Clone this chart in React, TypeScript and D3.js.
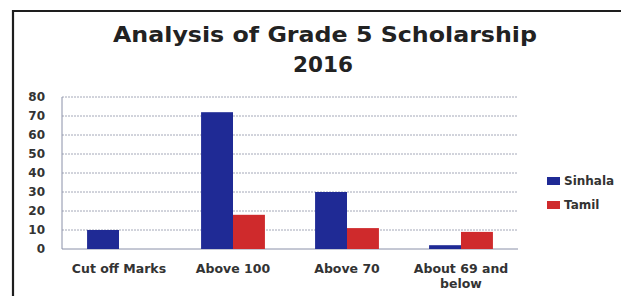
import React from 'react';
import * as d3 from 'd3';

const categories = ['Cut off Marks', 'Above 100', 'Above 70', 'About 69 and below'];
const seriesNames = ['Sinhala', 'Tamil'];
const sinhala = [10, 72, 30, 2];
const tamil = [0, 18, 11, 9];
const yTicks = [0, 10, 20, 30, 40, 50, 60, 70, 80];
const colors = ['#1f2a95', '#cf2a2c'];

const W = 621, H = 296;
const font = "'DejaVu Sans', sans-serif";

export default function App() {
  const values = [sinhala, tamil];
  const x = d3.scaleBand<string>().domain(categories).range([62, 518])
    .paddingInner(0.44).paddingOuter(0.22);
  const xs = d3.scaleBand<string>().domain(seriesNames).range([0, x.bandwidth()]);
  const y = d3.scaleLinear().domain([0, 80]).range([249, 97]);

  // split long label like excel does
  const labelLines = (c: string) => c === 'About 69 and below' ? ['About 69 and', 'below'] : [c];

  return (
    <svg width={W} height={H} style={{position: 'absolute', left: 0, top: 0, background: '#fff'}}>
      {/* frame */}
      <path d={`M13,${H} L13,11 L${W},11`} fill="none" stroke="#1e1e1e" strokeWidth={2.2} />

      <text x={325} y={42} textAnchor="middle" fontFamily={font} fontWeight="bold" fontSize={21.5} fill="#222"
        textLength={424} lengthAdjust="spacingAndGlyphs">
        Analysis of Grade 5 Scholarship
      </text>
      <text x={323} y={72} textAnchor="middle" fontFamily={font} fontWeight="bold" fontSize={21.5} fill="#222">
        2016
      </text>

      {/* gridlines */}
      {yTicks.filter(t => t > 0).map(t => (
        <line key={t} x1={62} x2={518} y1={y(t)} y2={y(t)} stroke="#a4a8b8" strokeWidth={1} strokeDasharray="2,1" />
      ))}
      <line x1={62} x2={518} y1={y(0)} y2={y(0)} stroke="#8a90a8" strokeWidth={1} />
      <line x1={62} x2={62} y1={y(80)} y2={y(0)} stroke="#8a90a8" strokeWidth={1} />

      {yTicks.map(t => (
        <text key={t} x={45} y={y(t)} dy="0.35em" textAnchor="end" fontFamily={font} fontWeight="bold" fontSize={12} fill="#333">
          {t}
        </text>
      ))}

      {/* bars */}
      {categories.map((c, i) => (
        <g key={c} transform={`translate(${x(c)},0)`}>
          {seriesNames.map((s, j) => values[j][i] > 0 && (
            <rect key={s} x={xs(s)} y={y(values[j][i])} width={xs.bandwidth()} height={y(0) - y(values[j][i])} fill={colors[j]} />
          ))}
        </g>
      ))}

      {/* x labels */}
      {categories.map(c => labelLines(c).map((l, k) => (
        <text key={c + k} x={(x(c) as number) + x.bandwidth() / 2} y={273 + k * 15} textAnchor="middle"
          fontFamily={font} fontWeight="bold" fontSize={12.5} fill="#333">{l}</text>
      )))}

      {/* legend */}
      {seriesNames.map((s, j) => (
        <g key={s} transform={`translate(547,${181 + j * 24})`}>
          <rect x={0} y={-4} width={13} height={8} fill={colors[j]} />
          <text x={17} y={0} dy="0.35em" fontFamily={font} fontWeight="bold" fontSize={12} fill="#333">{s}</text>
        </g>
      ))}
    </svg>
  );
}
